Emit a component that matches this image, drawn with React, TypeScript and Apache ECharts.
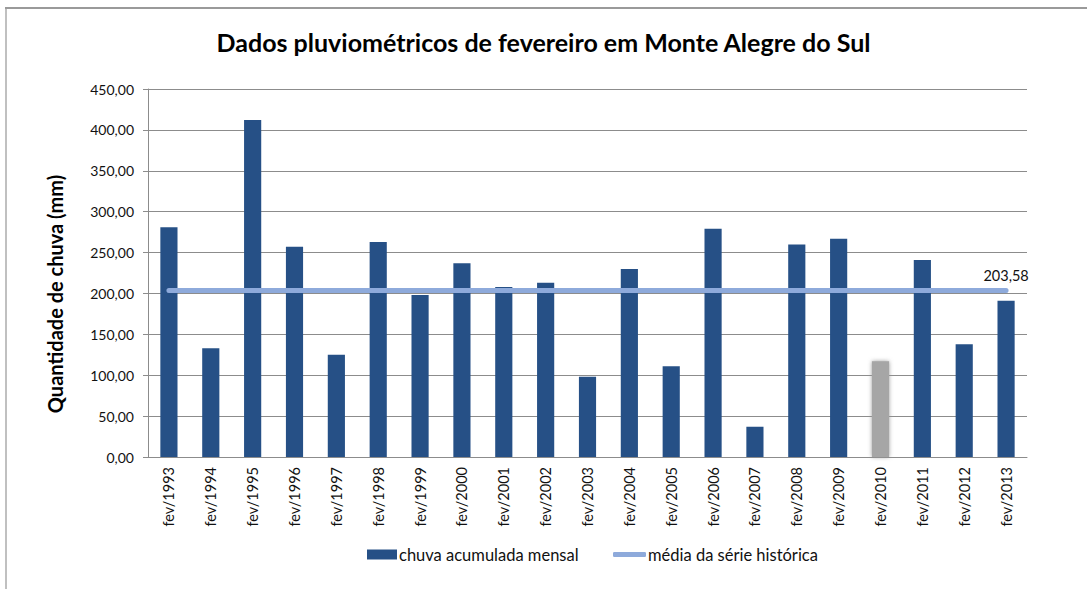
import React, { useEffect, useRef } from "react";
import * as echarts from "echarts";

const categories = [
  "fev/1993", "fev/1994", "fev/1995", "fev/1996", "fev/1997", "fev/1998", "fev/1999",
  "fev/2000", "fev/2001", "fev/2002", "fev/2003", "fev/2004", "fev/2005", "fev/2006",
  "fev/2007", "fev/2008", "fev/2009", "fev/2010", "fev/2011", "fev/2012", "fev/2013",
];
const chuva = [281, 133, 412, 257, 125, 263, 198, 237, 208, 213, 98, 230, 111, 279, 37, 260, 267, 117, 241, 138, 191];
const media = 203.58;
const grayCategory = "fev/2010";
const yTicks = { min: 0, max: 450, interval: 50 };

const TITLE = "Dados pluviométricos de fevereiro em Monte Alegre do Sul";
const Y_NAME = "Quantidade de chuva (mm)";
const BAR_NAME = "chuva acumulada mensal";
const LINE_NAME = "média da série histórica";

const FONT = "Lato, 'Open Sans', sans-serif";
const LINE_COLOR = "#8eaadb";

export default function App() {
  const ref = useRef<HTMLDivElement>(null);
  useEffect(() => {
    if (!ref.current) return;
    const chart = echarts.init(ref.current, null, { renderer: "svg" });
    const fmt = (v: number) => v.toFixed(2).replace(".", ",");
    const lastCat = categories[categories.length - 1];
    const legendText = { fontFamily: FONT, fontSize: 16.5, color: "#111", padding: [0, 0, 0, -3] };
    chart.setOption({
      animation: false,
      backgroundColor: "#ffffff",
      textStyle: { fontFamily: FONT },
      title: {
        text: TITLE,
        left: "center",
        top: 24,
        textStyle: { fontFamily: FONT, fontSize: 25, fontWeight: "bold", color: "#000" },
      },
      graphic: [
        { type: "line", shape: { x1: 6, y1: 8, x2: 6, y2: 600 }, style: { stroke: "#c0c0c0", lineWidth: 2 } },
        { type: "line", shape: { x1: 5, y1: 8, x2: 1100, y2: 8 }, style: { stroke: "#9a9a9a", lineWidth: 2 } },
      ],
      legend: [
        {
          bottom: 21,
          left: 362,
          itemWidth: 30,
          itemHeight: 10,
          textStyle: legendText,
          data: [{ name: BAR_NAME, icon: "rect" }],
        },
        {
          bottom: 21,
          left: 608,
          itemWidth: 33,
          itemHeight: 5,
          textStyle: legendText,
          data: [{ name: LINE_NAME, icon: "roundRect", itemStyle: { color: LINE_COLOR } }],
        },
      ],
      grid: { left: 148, right: 60, top: 89, bottom: 132, containLabel: false },
      xAxis: {
        type: "category",
        data: categories,
        axisLine: { lineStyle: { color: "#8c8c8c", width: 1 } },
        axisTick: { show: false },
        axisLabel: { rotate: 90, fontSize: 14.5, color: "#111", margin: 10, fontFamily: FONT },
      },
      yAxis: {
        type: "value",
        min: yTicks.min,
        max: yTicks.max,
        interval: yTicks.interval,
        name: Y_NAME,
        nameLocation: "middle",
        nameGap: 83,
        nameTextStyle: { fontFamily: FONT, fontSize: 20, fontWeight: "bold", color: "#000", padding: [0, 42, 0, 0] },
        axisLine: { show: true, lineStyle: { color: "#8c8c8c", width: 1 } },
        axisTick: { show: true, length: 5, lineStyle: { color: "#8c8c8c" } },
        axisLabel: { fontSize: 14, color: "#111", margin: 14, formatter: (v: number) => fmt(v), fontFamily: FONT },
        splitLine: { lineStyle: { color: "#8c8c8c", width: 1 } },
      },
      series: [
        {
          name: BAR_NAME,
          type: "bar",
          barCategoryGap: "59%",
          itemStyle: { color: "#265086" },
          data: chuva.map((v, i) =>
            categories[i] === grayCategory
              ? { value: v, itemStyle: { color: "#a6a6a6", shadowBlur: 4, shadowColor: "rgba(150,150,150,0.9)" } }
              : v
          ),
        },
        {
          name: LINE_NAME,
          type: "line",
          symbol: "none",
          lineStyle: { color: LINE_COLOR, width: 5, cap: "round" },
          itemStyle: { color: LINE_COLOR },
          data: categories.map(() => media),
          markPoint: {
            symbol: "circle",
            symbolSize: 1,
            itemStyle: { color: "rgba(0,0,0,0)" },
            label: {
              show: true,
              position: "top",
              distance: 7,
              fontSize: 14.5,
              color: "#111",
              fontFamily: FONT,
              formatter: () => fmt(media),
            },
            data: [{ coord: [lastCat, media], value: media }],
          },
        },
      ],
    });
    return () => chart.dispose();
  }, []);
  return (
    <div
      ref={ref}
      style={{ position: "absolute", left: 0, top: 0, width: 1087, height: 589 }}
    />
  );
}
